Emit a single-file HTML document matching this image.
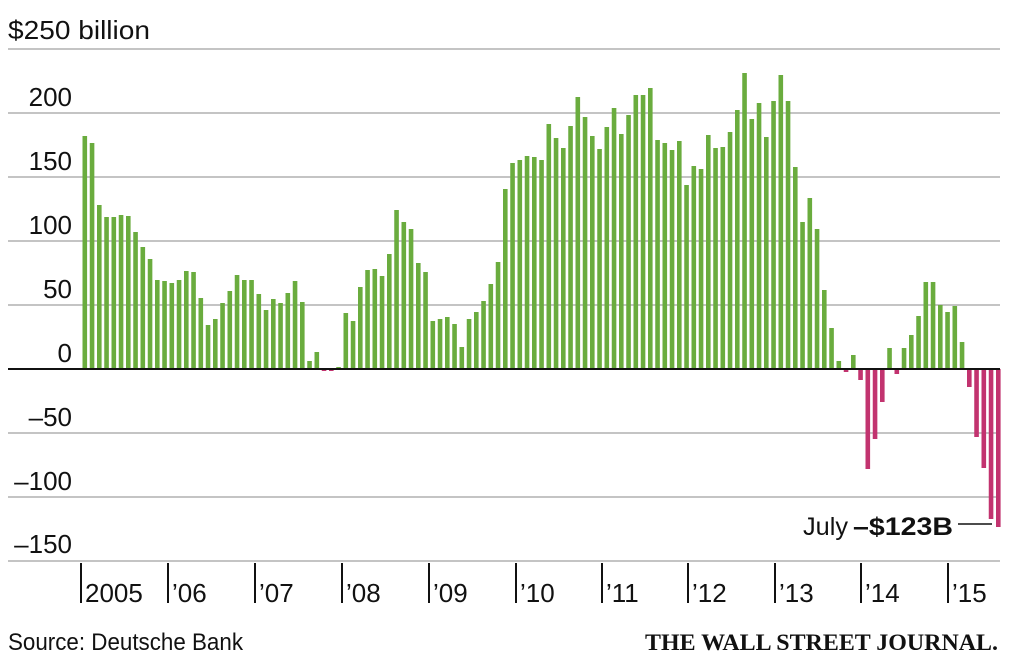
<!DOCTYPE html>
<html><head><meta charset="utf-8"><style>
html,body{margin:0;padding:0;background:#fff;}
svg{display:block;}
text{font-family:"Liberation Sans",sans-serif;fill:#111;}
</style></head><body>
<svg id="c" width="1023" height="666" viewBox="0 0 1023 666" xmlns="http://www.w3.org/2000/svg">
<g stroke="#c4c4c4" stroke-width="2">
<line x1="8" y1="49" x2="1000" y2="49"/>
<line x1="8" y1="113" x2="1000" y2="113"/>
<line x1="8" y1="177" x2="1000" y2="177"/>
<line x1="8" y1="241" x2="1000" y2="241"/>
<line x1="8" y1="305" x2="1000" y2="305"/>
<line x1="8" y1="433" x2="1000" y2="433"/>
<line x1="8" y1="497" x2="1000" y2="497"/>
<line x1="8" y1="561" x2="1000" y2="561"/>
</g>
<g font-size="26">
<text x="8" y="39" textLength="142" lengthAdjust="spacingAndGlyphs">$250 billion</text>
<g text-anchor="end">
<text x="72" y="106">200</text>
<text x="72" y="170">150</text>
<text x="72" y="234">100</text>
<text x="72" y="298">50</text>
<text x="72" y="362">0</text>
<text x="72" y="426">–50</text>
<text x="72" y="490">–100</text>
<text x="72" y="553">–150</text>
</g>
</g>
<g id="bars"></g>
<line x1="8" y1="369" x2="1000" y2="369" stroke="#111" stroke-width="2"/>
<g stroke="#111" stroke-width="2">
<line x1="81" y1="563" x2="81" y2="603"/>
<line x1="168" y1="563" x2="168" y2="603"/>
<line x1="255" y1="563" x2="255" y2="603"/>
<line x1="342" y1="563" x2="342" y2="603"/>
<line x1="429" y1="563" x2="429" y2="603"/>
<line x1="516" y1="563" x2="516" y2="603"/>
<line x1="602" y1="563" x2="602" y2="603"/>
<line x1="688" y1="563" x2="688" y2="603"/>
<line x1="775" y1="563" x2="775" y2="603"/>
<line x1="861" y1="563" x2="861" y2="603"/>
<line x1="948" y1="563" x2="948" y2="603"/>
</g>
<g font-size="26">
<text x="85" y="602">2005</text>
<text x="172" y="602">’06</text>
<text x="259" y="602">’07</text>
<text x="346" y="602">’08</text>
<text x="433" y="602">’09</text>
<text x="520" y="602">’10</text>
<text x="606" y="602">’11</text>
<text x="692" y="602">’12</text>
<text x="779" y="602">’13</text>
<text x="865" y="602">’14</text>
<text x="952" y="602">’15</text>
</g>
<text x="8" y="650" font-size="24" textLength="235" lengthAdjust="spacingAndGlyphs">Source: Deutsche Bank</text>
<text x="645" y="650" font-size="23" font-weight="bold" style="font-family:'Liberation Serif',serif" textLength="353" lengthAdjust="spacingAndGlyphs">THE WALL STREET JOURNAL.</text>
<text x="803" y="535" font-size="25" textLength="45" lengthAdjust="spacingAndGlyphs">July</text>
<text x="853" y="535" font-size="25" font-weight="bold" textLength="100" lengthAdjust="spacingAndGlyphs">–$123B</text>
<line x1="958" y1="524" x2="992" y2="524" stroke="#111" stroke-width="1.5"/>
</svg>
<script>
var tops=[136,143,205,217,217,215,216,232,247,259,280,281,283,280,271,272,298,325,319,303,291,275,280,280,294,310,299,303,293,281,302,361,352,371,371,367,313,321,287,270,269,276,254,210,222,229,263,272,321,319,317,324,347,319,312,301,284,262,189,163,160,156,157,160,124,138,148,126,97,117,136,149,127,108,134,115,95,95,88,140,143,150,141,185,166,169,135,148,147,132,110,73,119,103,137,101,75,101,167,222,198,229,290,328,361,372,355,380,469,439,402,348,374,348,335,316,282,282,305,312,306,342,387,437,468,519,527];
var g=document.getElementById('bars'),ns='http://www.w3.org/2000/svg',z=369;
for(var i=0;i<tops.length;i++){
 var t=tops[i],r=document.createElementNS(ns,'rect'),x=82.5+i*7.25;
 r.setAttribute('x',x.toFixed(2));r.setAttribute('width','4.6');
 if(t<z){r.setAttribute('y',t);r.setAttribute('height',z-t);r.setAttribute('fill','#6aac3e');}
 else{r.setAttribute('y',z);r.setAttribute('height',Math.max(t-z,2));r.setAttribute('fill','#c2336f');}
 g.appendChild(r);
}
</script>
</body></html>
